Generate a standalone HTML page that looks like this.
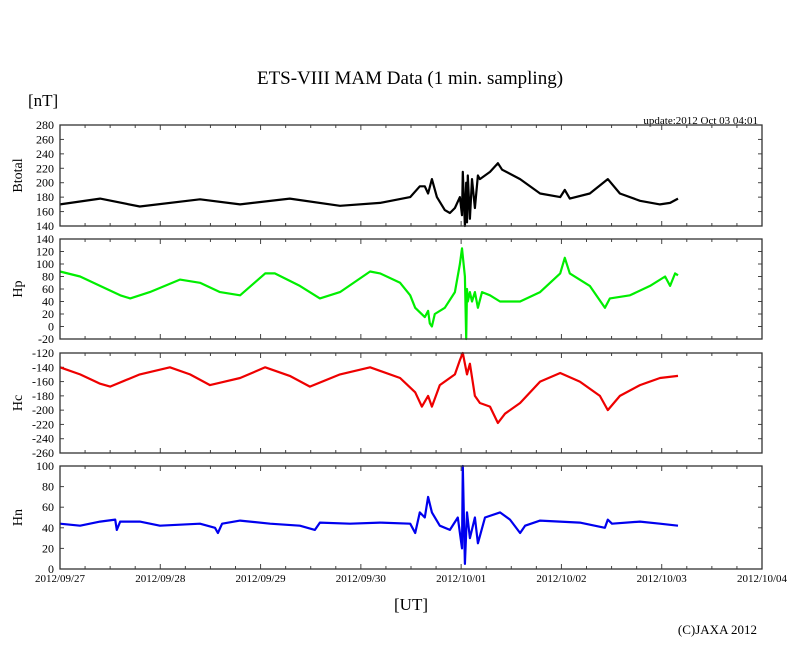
<!DOCTYPE html>
<html><head><meta charset="utf-8"><style>
html,body{margin:0;padding:0;background:#fff;}
svg{display:block;font-family:"Liberation Serif",serif;}
</style></head><body>
<svg id="chart" width="810" height="655">
<text x="410" y="84" font-size="19" text-anchor="middle">ETS-VIII MAM Data (1 min. sampling)</text>
<text x="28" y="106" font-size="17">[nT]</text>
<text x="758" y="124" font-size="11" text-anchor="end">update:2012 Oct 03 04:01</text>
<text x="411" y="610" font-size="17" text-anchor="middle">[UT]</text>
<text x="757" y="634" font-size="13" text-anchor="end">(C)JAXA 2012</text>
<g id="panels"></g>
</svg>
<script>
const xTickLabels = ["2012/09/27","2012/09/28","2012/09/29","2012/09/30","2012/10/01","2012/10/02","2012/10/03","2012/10/04"];
const btT = [0,9.6,19.1,33.5,43.1,55.0,67.0,76.6,83.8,86.1,87.3,88.1,89.0,90.2,92.1,93.3,94.5,95.7,96.2,96.4,96.9,97.2,97.4,97.6,98.1,98.6,99.3,100.0,100.5,102.9,104.8,105.8,110.1,114.9,119.7,120.8,122.0,126.8,131.1,134.0,138.8,143.6,146.0,147.9];
const btV = [170,178,167,177,170,178,168,172,180,195,195,185,205,180,162,158,165,180,155,215,140,200,145,210,150,205,165,210,205,215,227,218,205,185,180,190,178,185,205,185,175,170,172,178];
const hpT = [0,4.8,9.6,14.4,16.8,21.5,28.7,33.5,38.3,43.1,49.1,51.4,57.4,62.2,67.0,74.2,76.6,81.4,83.8,85.0,87.3,88.1,88.5,89.0,89.7,92.1,94.5,95.7,96.2,96.9,97.2,97.4,97.6,98.1,98.6,99.3,100.0,101.0,102.9,105.3,110.1,114.9,119.7,120.8,122.0,126.8,130.4,131.6,136.4,141.2,144.8,146.0,147.2,147.9];
const hpV = [88,80,65,50,45,55,75,70,55,50,85,85,65,45,55,88,85,70,50,30,15,25,5,0,20,30,55,100,125,80,-20,60,40,55,40,55,30,55,50,40,40,55,85,110,85,65,30,45,50,65,80,65,85,82];
const hcT = [0,4.8,9.6,12.0,19.1,26.3,31.1,35.9,43.1,49.1,55.0,59.8,67.0,74.2,81.4,85.0,86.6,88.1,89.0,90.9,94.5,95.7,96.4,97.4,98.1,99.3,100.5,102.9,104.8,106.5,110.1,114.9,119.7,124.4,129.2,131.1,134.0,138.8,143.6,147.9];
const hcV = [-140,-150,-163,-167,-150,-140,-150,-165,-155,-140,-152,-167,-150,-140,-155,-175,-195,-180,-195,-165,-150,-130,-120,-150,-135,-180,-190,-195,-218,-205,-190,-160,-148,-160,-180,-200,-180,-165,-155,-152];
const hnT = [0,4.8,9.6,13.2,13.6,14.4,19.1,23.9,28.7,33.5,37.1,37.8,38.8,43.1,50.3,57.4,61.0,62.2,69.4,76.6,83.8,85.0,86.1,87.3,88.1,89.0,90.9,93.3,95.2,96.2,96.4,96.9,97.4,98.1,99.3,100.0,101.7,105.3,107.7,110.1,111.3,114.9,124.4,130.4,131.1,132.1,138.8,143.6,147.9];
const hnV = [44,42,46,48,38,46,46,42,43,44,40,35,44,47,44,42,38,45,44,45,44,35,55,50,70,55,42,38,50,20,100,5,55,30,50,25,50,55,48,35,42,47,45,40,48,44,46,44,42];
const panels = [
 {name:"btotal",label:"Btotal",top:125,bot:226,min:140,max:280,step:20,color:"#000",t:btT,v:btV},
 {name:"hp",label:"Hp",top:239,bot:339,min:-20,max:140,step:20,color:"#00ee00",t:hpT,v:hpV},
 {name:"hc",label:"Hc",top:353,bot:453,min:-260,max:-120,step:20,color:"#ee0000",t:hcT,v:hcV},
 {name:"hn",label:"Hn",top:466,bot:569,min:0,max:100,step:20,color:"#0000ee",t:hnT,v:hnV}
];
const X0=60,X1=762,HOURS=168;
const xs = h => X0 + h/HOURS*(X1-X0);
const NS="http://www.w3.org/2000/svg";
const g=document.getElementById("panels");
function mk(tag,attrs,parent){const e=document.createElementNS(NS,tag);for(const k in attrs)e.setAttribute(k,attrs[k]);(parent||g).appendChild(e);return e;}
panels.forEach((p,pi)=>{
 const ys = v => p.bot - (v-p.min)/(p.max-p.min)*(p.bot-p.top);
 const grp=mk("g",{});
 
 
 // ticks
 for(let h=0;h<=HOURS;h+=6){
  const x=xs(h), len=(h%24===0)?5:3;
  mk("line",{x1:x,x2:x,y1:p.bot,y2:p.bot-len,stroke:"#444","stroke-width":1},grp);
  mk("line",{x1:x,x2:x,y1:p.top,y2:p.top+len,stroke:"#444","stroke-width":1},grp);
 }
 for(let v=p.min;v<=p.max;v+=p.step){
  const y=ys(v);
  mk("line",{x1:X0,x2:X0+4,y1:y,y2:y,stroke:"#444"},grp);
  mk("line",{x1:X1,x2:X1-4,y1:y,y2:y,stroke:"#444"},grp);
  const t=mk("text",{x:54,y:y+4,"font-size":12,"text-anchor":"end"},grp);
  t.textContent=v;
  
  
 }
 const lab=mk("text",{x:0,y:0,"font-size":14,"text-anchor":"middle",transform:`translate(22,${(p.top+p.bot)/2}) rotate(-90)`},grp);
 lab.textContent=p.label;
 
 
 let d="";
 p.t.forEach((h,i)=>{d+=(i?"L":"M")+xs(h).toFixed(1)+","+ys(p.v[i]).toFixed(1);});
 const line=mk("path",{d:d,fill:"none",stroke:p.color,"stroke-width":2.2,"stroke-linejoin":"round"},grp);
 
 
 const frame=mk("rect",{x:X0,y:p.top,width:X1-X0,height:p.bot-p.top,fill:"none",stroke:"#333","stroke-width":1.3},grp);
 
 
 if(pi===panels.length-1){
  xTickLabels.forEach((s,i)=>{
   const t=mk("text",{x:xs(i*24),y:p.bot+13,"font-size":11,"text-anchor":"middle"},grp);
   t.textContent=s;
   
   
  });
 }
});
</script>
</body></html>
